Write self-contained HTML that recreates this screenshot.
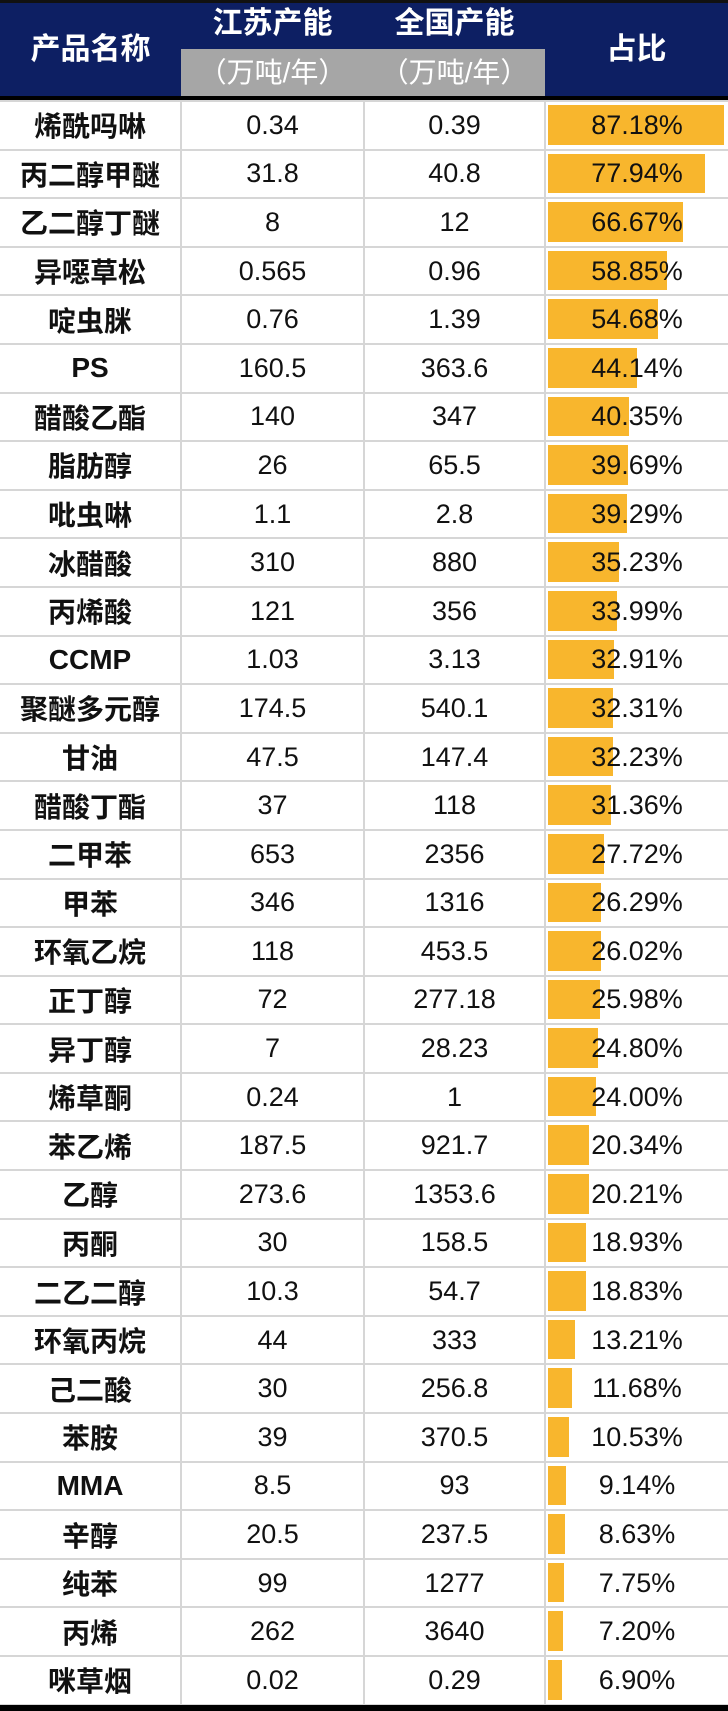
<!DOCTYPE html>
<html><head><meta charset="utf-8"><style>
html,body{margin:0;padding:0;background:#fff;}
body{width:728px;height:1711px;position:relative;overflow:hidden;font-family:"Liberation Sans","Noto Sans CJK SC",sans-serif;}
.hdr{position:absolute;left:0;top:0;width:728px;height:100px;background:#0d1f63;border-top:3px solid #111;box-sizing:border-box;border-bottom:4px solid #000;}
.gray{position:absolute;left:181px;top:49px;width:364px;height:47px;background:#a6a6a6;}
.ht{position:absolute;color:#fff;font-size:30px;font-weight:bold;text-align:center;line-height:34px;}
.hs{position:absolute;color:#fff;font-size:28px;text-align:center;line-height:34px;}
table{position:absolute;left:0;top:100px;width:728px;border-collapse:collapse;table-layout:fixed;}
td{height:46.6px;border:2px solid #d6d6d6;padding:0;text-align:center;font-size:27px;color:#111;position:relative;}
td.n{font-weight:bold;font-size:28px;}
td:first-child{border-left:none}
td:last-child{border-right:none}
.bar{position:absolute;left:2px;top:3px;bottom:4px;background:#f8b62d;}
.p{position:relative;}
.bot{position:absolute;left:0;top:1705px;width:728px;height:6px;background:#000;}
</style></head><body>
<div class="hdr"></div>
<div class="gray"></div>
<div class="ht" style="left:0;width:181px;top:33px">产品名称</div>
<div class="ht" style="left:181px;width:183px;top:7px">江苏产能</div>
<div class="ht" style="left:364px;width:181px;top:7px">全国产能</div>
<div class="ht" style="left:545px;width:183px;top:33px">占比</div>
<div class="hs" style="left:181px;width:183px;top:56px">（万吨/年）</div>
<div class="hs" style="left:364px;width:181px;top:56px">（万吨/年）</div>
<table>
<colgroup><col style="width:181px"><col style="width:183px"><col style="width:181px"><col style="width:183px"></colgroup>
<tr><td class="n">烯酰吗啉</td><td>0.34</td><td>0.39</td><td><div class="bar" style="width:176px"></div><span class="p">87.18%</span></td></tr>
<tr><td class="n">丙二醇甲醚</td><td>31.8</td><td>40.8</td><td><div class="bar" style="width:157px"></div><span class="p">77.94%</span></td></tr>
<tr><td class="n">乙二醇丁醚</td><td>8</td><td>12</td><td><div class="bar" style="width:135px"></div><span class="p">66.67%</span></td></tr>
<tr><td class="n">异噁草松</td><td>0.565</td><td>0.96</td><td><div class="bar" style="width:119px"></div><span class="p">58.85%</span></td></tr>
<tr><td class="n">啶虫脒</td><td>0.76</td><td>1.39</td><td><div class="bar" style="width:110px"></div><span class="p">54.68%</span></td></tr>
<tr><td class="n">PS</td><td>160.5</td><td>363.6</td><td><div class="bar" style="width:89px"></div><span class="p">44.14%</span></td></tr>
<tr><td class="n">醋酸乙酯</td><td>140</td><td>347</td><td><div class="bar" style="width:81px"></div><span class="p">40.35%</span></td></tr>
<tr><td class="n">脂肪醇</td><td>26</td><td>65.5</td><td><div class="bar" style="width:80px"></div><span class="p">39.69%</span></td></tr>
<tr><td class="n">吡虫啉</td><td>1.1</td><td>2.8</td><td><div class="bar" style="width:79px"></div><span class="p">39.29%</span></td></tr>
<tr><td class="n">冰醋酸</td><td>310</td><td>880</td><td><div class="bar" style="width:71px"></div><span class="p">35.23%</span></td></tr>
<tr><td class="n">丙烯酸</td><td>121</td><td>356</td><td><div class="bar" style="width:69px"></div><span class="p">33.99%</span></td></tr>
<tr><td class="n">CCMP</td><td>1.03</td><td>3.13</td><td><div class="bar" style="width:66px"></div><span class="p">32.91%</span></td></tr>
<tr><td class="n">聚醚多元醇</td><td>174.5</td><td>540.1</td><td><div class="bar" style="width:65px"></div><span class="p">32.31%</span></td></tr>
<tr><td class="n">甘油</td><td>47.5</td><td>147.4</td><td><div class="bar" style="width:65px"></div><span class="p">32.23%</span></td></tr>
<tr><td class="n">醋酸丁酯</td><td>37</td><td>118</td><td><div class="bar" style="width:63px"></div><span class="p">31.36%</span></td></tr>
<tr><td class="n">二甲苯</td><td>653</td><td>2356</td><td><div class="bar" style="width:56px"></div><span class="p">27.72%</span></td></tr>
<tr><td class="n">甲苯</td><td>346</td><td>1316</td><td><div class="bar" style="width:53px"></div><span class="p">26.29%</span></td></tr>
<tr><td class="n">环氧乙烷</td><td>118</td><td>453.5</td><td><div class="bar" style="width:53px"></div><span class="p">26.02%</span></td></tr>
<tr><td class="n">正丁醇</td><td>72</td><td>277.18</td><td><div class="bar" style="width:52px"></div><span class="p">25.98%</span></td></tr>
<tr><td class="n">异丁醇</td><td>7</td><td>28.23</td><td><div class="bar" style="width:50px"></div><span class="p">24.80%</span></td></tr>
<tr><td class="n">烯草酮</td><td>0.24</td><td>1</td><td><div class="bar" style="width:48px"></div><span class="p">24.00%</span></td></tr>
<tr><td class="n">苯乙烯</td><td>187.5</td><td>921.7</td><td><div class="bar" style="width:41px"></div><span class="p">20.34%</span></td></tr>
<tr><td class="n">乙醇</td><td>273.6</td><td>1353.6</td><td><div class="bar" style="width:41px"></div><span class="p">20.21%</span></td></tr>
<tr><td class="n">丙酮</td><td>30</td><td>158.5</td><td><div class="bar" style="width:38px"></div><span class="p">18.93%</span></td></tr>
<tr><td class="n">二乙二醇</td><td>10.3</td><td>54.7</td><td><div class="bar" style="width:38px"></div><span class="p">18.83%</span></td></tr>
<tr><td class="n">环氧丙烷</td><td>44</td><td>333</td><td><div class="bar" style="width:27px"></div><span class="p">13.21%</span></td></tr>
<tr><td class="n">己二酸</td><td>30</td><td>256.8</td><td><div class="bar" style="width:24px"></div><span class="p">11.68%</span></td></tr>
<tr><td class="n">苯胺</td><td>39</td><td>370.5</td><td><div class="bar" style="width:21px"></div><span class="p">10.53%</span></td></tr>
<tr><td class="n">MMA</td><td>8.5</td><td>93</td><td><div class="bar" style="width:18px"></div><span class="p">9.14%</span></td></tr>
<tr><td class="n">辛醇</td><td>20.5</td><td>237.5</td><td><div class="bar" style="width:17px"></div><span class="p">8.63%</span></td></tr>
<tr><td class="n">纯苯</td><td>99</td><td>1277</td><td><div class="bar" style="width:16px"></div><span class="p">7.75%</span></td></tr>
<tr><td class="n">丙烯</td><td>262</td><td>3640</td><td><div class="bar" style="width:15px"></div><span class="p">7.20%</span></td></tr>
<tr><td class="n">咪草烟</td><td>0.02</td><td>0.29</td><td><div class="bar" style="width:14px"></div><span class="p">6.90%</span></td></tr>
</table>
<div class="bot"></div>
</body></html>
